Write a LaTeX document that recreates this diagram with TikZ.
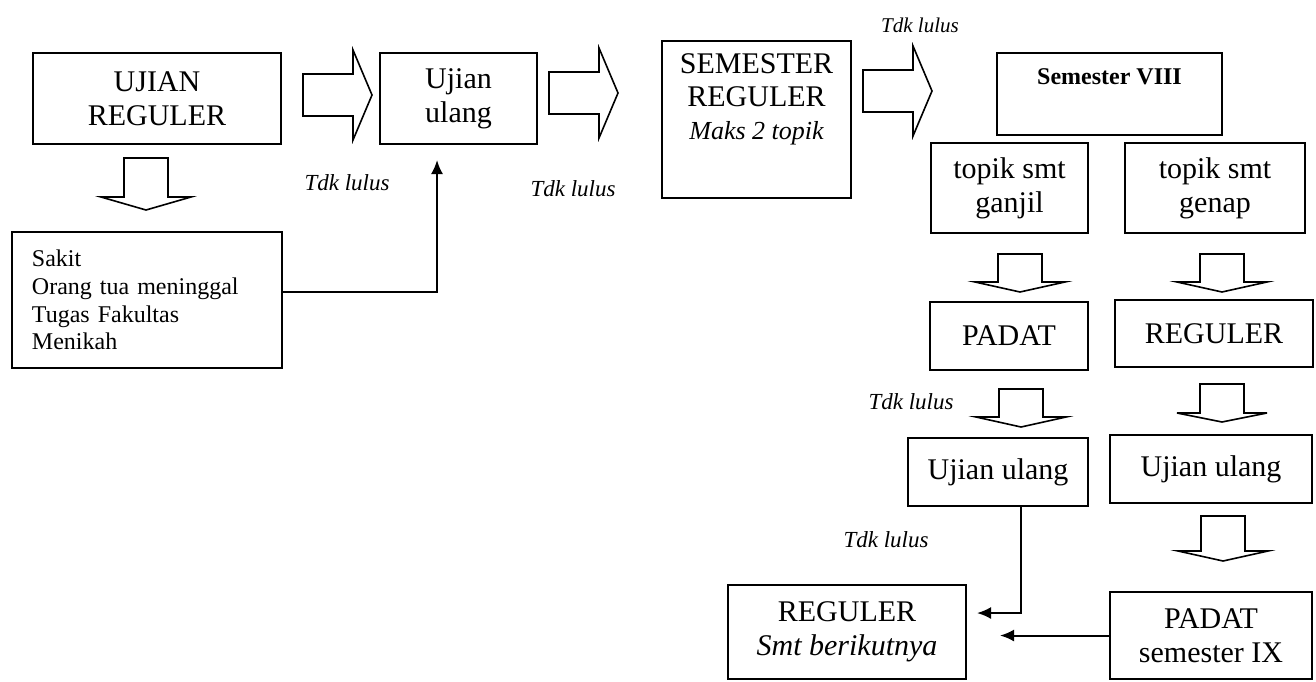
\documentclass[tikz,border=0pt]{standalone}
\usepackage{fontspec}
\setmainfont{Liberation Serif}
\usetikzlibrary{arrows.meta}

\begin{document}
\begin{tikzpicture}[x=0.5pt, y=-0.5pt,
  % Define the style of the boxes
  box/.style={draw, line width=1pt, inner sep=0pt, align=center, font=\fontsize{15}{17}\selectfont},
  % Define the style of the hollow block arrows
  hollow/.style={draw, line width=0.8pt, line join=miter},
  % Define the style of the thin arrows
  arrow/.style={-{Latex[length=7pt, width=6pt]}, line width=1pt},
  % Define the style of the "Tdk lulus" labels
  faillabel/.style={font=\fontsize{11.5}{13}\selectfont\itshape}
  ]
  \useasboundingbox (0,0) rectangle (1316,681);

  % Top row
  \node[box, minimum width=124pt, minimum height=45.5pt] (ujian) at (157,98.5) {UJIAN\\REGULER};
  \node[box, minimum width=78.5pt, minimum height=45.5pt] (ulang1) at (458.5,98.5) {Ujian\\ulang};
  \node[box, minimum width=94.5pt, minimum height=78.5pt] (semreg) at (756.5,119.5) {};
  \node[align=center, anchor=north, inner sep=0pt, font=\fontsize{15}{16.5}\selectfont] (semregtext) at (756.5,53)
    {SEMESTER\\REGULER\\{\fontsize{13}{15}\selectfont\itshape Maks 2 topik}};
  \node[box, minimum width=112.5pt, minimum height=41pt] (sem8) at (1109.5,94) {};
  \node[inner sep=0pt, font=\fontsize{12}{14}\selectfont\bfseries] (sem8text) at (1109.5,77) {Semester VIII};

  % Reasons box
  \node[box, align=left, text width=115pt, inner xsep=10pt, minimum height=68pt,
    font=\fontsize{12}{13.9}\selectfont] (sakit) at (147,300)
    {Sakit\\Orang tua meninggal\\Tugas Fakultas\\Menikah};

  % Semester VIII branches
  \node[box, minimum width=78.5pt, minimum height=45pt] (ganjil) at (1009.5,188) {topik smt\\ganjil};
  \node[box, minimum width=90pt, minimum height=45pt] (genap) at (1215,188) {topik smt\\genap};
  \node[box, minimum width=79pt, minimum height=34pt] (padat) at (1009,336) {PADAT};
  \node[box, minimum width=99pt, minimum height=33.5pt] (reg2) at (1214,333.5) {REGULER};
  \node[box, minimum width=90pt, minimum height=34pt] (ulang2) at (998,472) {Ujian ulang};
  \node[box, minimum width=101pt, minimum height=34pt] (ulang3) at (1211,469) {Ujian ulang};
  \node[box, minimum width=119pt, minimum height=47pt] (regnext) at (847,632)
    {REGULER\\{\itshape Smt berikutnya}};
  \node[box, minimum width=101pt, minimum height=43.5pt] (padat9) at (1211,635.5) {PADAT\\semester IX};

  % Labels
  \node[faillabel] (fail1) at (347,183) {Tdk lulus};
  \node[faillabel] (fail2) at (573,189) {Tdk lulus};
  \node[faillabel, font=\fontsize{10.5}{12}\selectfont\itshape] (fail3) at (920,25) {Tdk lulus};
  \node[faillabel] (fail4) at (911,402) {Tdk lulus};
  \node[faillabel] (fail5) at (886,540) {Tdk lulus};

  % Hollow arrows to the right
  \foreach \xa/\cy in {303/95, 549/93, 863/91} {
    \draw[hollow] (\xa,{\cy-21}) -- ({\xa+50},{\cy-21}) -- ({\xa+50},{\cy-45}) -- ({\xa+69},\cy)
      -- ({\xa+50},{\cy+45}) -- ({\xa+50},{\cy+21}) -- (\xa,{\cy+21}) -- cycle;
  }
  % Hollow arrows downwards
  \foreach \cx/\ta/\ba/\tb in {146/158/197/210, 1020/254/282/292, 1222/254/282/292,
      1021/389/417/427, 1222/384/413/422, 1223/516/551/561} {
    \draw[hollow] ({\cx-22},\ta) -- ({\cx+22},\ta) -- ({\cx+22},\ba) -- ({\cx+45},\ba) -- (\cx,\tb)
      -- ({\cx-45},\ba) -- ({\cx-22},\ba) -- cycle;
  }

  % Thin arrows
  \coordinate (tip1) at (437,160);
  \coordinate (tip2) at (977,613);
  \coordinate (tip3) at (1000,635.5);
  \draw[arrow] ([yshift=4pt]sakit.east) -| (tip1);
  \draw[arrow] ([xshift=11.5pt]ulang2.south) |- (tip2);
  \draw[arrow] (padat9.west) -- (tip3);
\end{tikzpicture}
\end{document}
